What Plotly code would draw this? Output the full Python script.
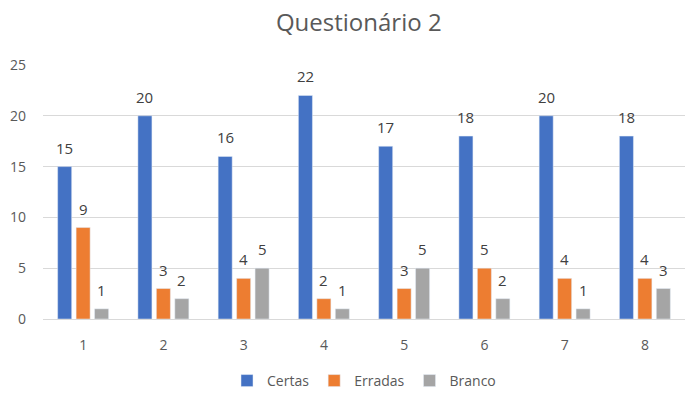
import plotly.graph_objects as go

categories = ["1", "2", "3", "4", "5", "6", "7", "8"]
certas = [15, 20, 16, 22, 17, 18, 20, 18]
erradas = [9, 3, 4, 2, 3, 5, 4, 4]
branco = [1, 2, 5, 1, 5, 2, 1, 3]

series = [("Certas", certas, "#4472C4"), ("Erradas", erradas, "#ED7D31"), ("Branco", branco, "#A5A5A5")]

W, H = 690, 402
ML, MR, MT, MB = 43, 5, 65, 71
BARGAP = 0.31
cat_px = (W - ML - MR) / len(categories)
pitch = cat_px * (1 - BARGAP) / len(series)

fig = go.Figure()
for i, (name, vals, color) in enumerate(series):
    fig.add_trace(go.Bar(x=categories, y=vals, name=name, marker_color=color))
    for j, v in enumerate(vals):
        fig.add_annotation(x=j, y=v, text=str(v), showarrow=False,
                           xshift=(i - 1) * pitch, yshift=19,
                           font=dict(size=15, color="#404040"))

fig.update_layout(
    width=W, height=H,
    margin=dict(l=ML, r=MR, t=MT, b=MB),
    paper_bgcolor="white", plot_bgcolor="white",
    font=dict(family="Open Sans, Noto Sans, sans-serif", color="#595959", size=13),
    title=dict(text="Questionário 2", x=0.52, xanchor="center", y=0.943, yanchor="middle",
               font=dict(size=24, color="#595959")),
    barmode="group", bargap=BARGAP, bargroupgap=0.24,
    showlegend=True,
    legend=dict(orientation="h", x=0.5, xanchor="center", y=-0.244, yanchor="middle",
                font=dict(size=14, color="#595959"), itemwidth=30, traceorder="normal"),
    xaxis=dict(type="category", range=[-0.5, len(categories) - 0.5],
               showline=True, linecolor="#D9D9D9", ticks="", tickfont=dict(size=14),
               ticklabelstandoff=13),
    yaxis=dict(range=[0, 25], dtick=5, showgrid=True, gridcolor="#D9D9D9", zeroline=False,
               showline=False, tickfont=dict(size=14), ticklabelstandoff=16),
)

fig.write_html("out.html")
